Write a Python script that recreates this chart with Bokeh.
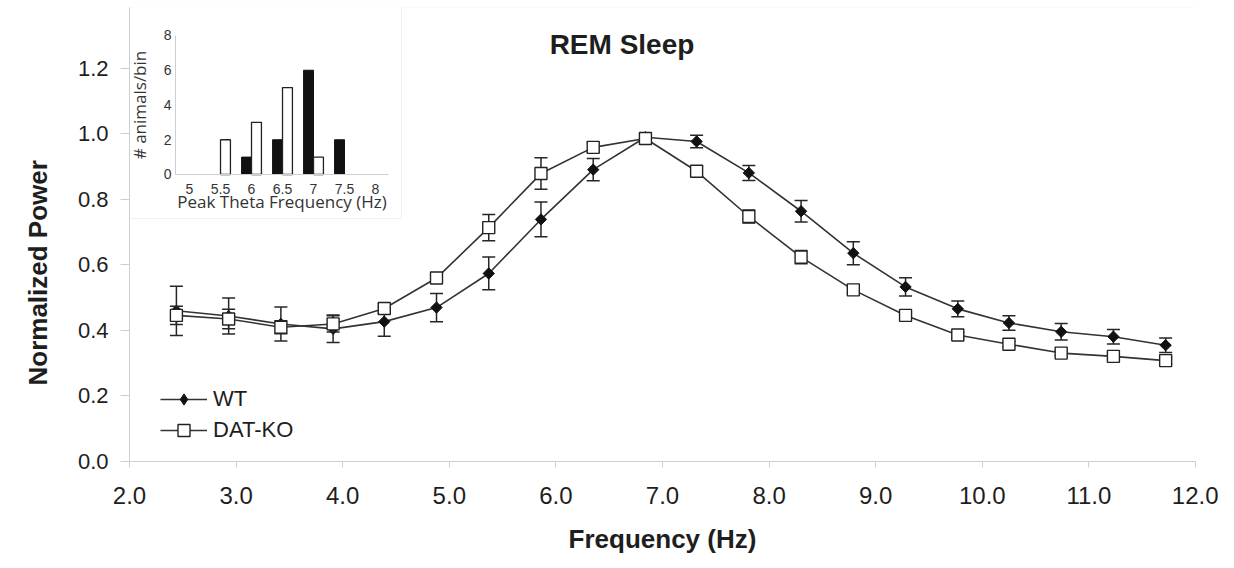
from bokeh.plotting import figure
from bokeh.models import (Range1d, LinearAxis, FixedTicker, Legend, LegendItem,
                          BoxAnnotation, Label, Title, ColumnDataSource)
from bokeh.embed import file_html
from bokeh.resources import INLINE

# ---------------- data ----------------
freq = [2.44, 2.93, 3.42, 3.91, 4.39, 4.88, 5.37, 5.86, 6.35, 6.84,
        7.32, 7.81, 8.30, 8.79, 9.28, 9.77, 10.25, 10.74, 11.23, 11.72]
wt_mean = [0.460, 0.444, 0.420, 0.405, 0.427, 0.470, 0.574, 0.739, 0.891, 0.990,
           0.977, 0.881, 0.764, 0.636, 0.533, 0.466, 0.423, 0.396, 0.381, 0.355]
wt_sem = [0.075, 0.055, 0.052, 0.042, 0.045, 0.043, 0.050, 0.053, 0.034, 0.010,
          0.019, 0.023, 0.033, 0.035, 0.028, 0.024, 0.022, 0.025, 0.022, 0.022]
ko_mean = [0.446, 0.435, 0.410, 0.420, 0.467, 0.560, 0.714, 0.879, 0.959, 0.986,
           0.886, 0.748, 0.624, 0.524, 0.446, 0.386, 0.358, 0.331, 0.321, 0.308]
ko_sem = [0.028, 0.030, 0.020, 0.025, 0.015, 0.015, 0.040, 0.048, 0.015, 0.010,
          0.015, 0.020, 0.020, 0.010, 0.008, 0.008, 0.008, 0.008, 0.008, 0.010]

x_ticks = [2, 3, 4, 5, 6, 7, 8, 9, 10, 11, 12]
x_tick_labels = ["2.0", "3.0", "4.0", "5.0", "6.0", "7.0", "8.0", "9.0", "10.0", "11.0", "12.0"]
y_ticks = [0.0, 0.2, 0.4, 0.6, 0.8, 1.0, 1.2]
y_tick_labels = ["0.0", "0.2", "0.4", "0.6", "0.8", "1.0", "1.2"]

# inset histogram: peak theta frequency
inset_bins = [5.0, 5.5, 6.0, 6.5, 7.0, 7.5, 8.0]
inset_bin_labels = ["5", "5.5", "6", "6.5", "7", "7.5", "8"]
inset_wt = [0, 0, 1, 2, 6, 2, 0]
inset_ko = [0, 2, 3, 5, 1, 0, 0]
inset_y_ticks = [0, 2, 4, 6, 8]

FONT = "Liberation Sans"
DARK = "#262626"
AXIS_GRAY = "#cfcfcf"

p = figure(width=1218, height=565, x_range=Range1d(2, 12), y_range=Range1d(0, 1.386),
           output_backend="svg", toolbar_location=None,
           min_border_left=129, min_border_right=23, min_border_top=7, min_border_bottom=104)
p.title.visible = False
p.grid.visible = False
p.outline_line_color = None
p.background_fill_color = "white"
p.border_fill_color = "white"

# inset ranges (share the same frame)
p.extra_x_ranges = {"ix": Range1d(4.032, 21.226)}
p.extra_y_ranges = {"iy": Range1d(-16.518, 9.611)}

# ---------------- main axes ----------------
xa = p.xaxis[0]
xa.ticker = FixedTicker(ticks=x_ticks)
xa.major_label_overrides = dict(zip(x_ticks, x_tick_labels))
xa.axis_label = "Frequency (Hz)"
ya = p.yaxis[0]
ya.ticker = FixedTicker(ticks=y_ticks)
ya.major_label_overrides = dict(zip(y_ticks, y_tick_labels))
for ax in (xa, ya):
    ax.axis_line_color = AXIS_GRAY
    ax.major_tick_line_color = AXIS_GRAY
    ax.minor_tick_line_color = None
    ax.major_tick_in = 0
    ax.major_label_text_font = FONT
    ax.major_label_text_color = "#1e1e1e"
    ax.axis_label_text_font = FONT
    ax.axis_label_text_font_style = "bold"
    ax.axis_label_text_font_size = "26px"
    ax.axis_label_text_color = "#1e1e1e"
xa.major_tick_out = 6
xa.major_label_standoff = 19
xa.major_label_text_font_size = "24px"
xa.axis_label_standoff = 17
ya.major_tick_out = 9
ya.major_label_standoff = 12
ya.major_label_text_font_size = "22px"

# y-axis title as a side title, offset upward from the frame bottom like the original
p.add_layout(Title(text="Normalized Power", align="left", vertical_align="top", offset=76,
                   standoff=40, text_font=FONT, text_font_style="bold", text_font_size="26px",
                   text_color="#1e1e1e"), "left")

# outer figure border (only the top edge falls inside the canvas)
p.add_layout(BoxAnnotation(left=-20, right=1300, top=7, bottom=700,
                           left_units="canvas", right_units="canvas",
                           top_units="canvas", bottom_units="canvas",
                           fill_alpha=0, line_color="#dedede", line_width=1, level="underlay"))

# ---------------- inset ----------------
p.add_layout(BoxAnnotation(left=4.016, right=8.419, top=9.8, bottom=-2.532,
                           x_range_name="ix", y_range_name="iy",
                           fill_color="white", fill_alpha=1.0,
                           line_color="#d4d4d4", line_width=1, level="underlay"))

bw = 0.16
wt_src = ColumnDataSource(dict(x=[b - bw / 2 for b, c in zip(inset_bins, inset_wt) if c > 0],
                               top=[c for c in inset_wt if c > 0]))
ko_src = ColumnDataSource(dict(x=[b + bw / 2 for b, c in zip(inset_bins, inset_ko) if c > 0],
                               top=[c for c in inset_ko if c > 0]))
p.vbar(x="x", top="top", bottom=0, width=bw, source=wt_src, x_range_name="ix", y_range_name="iy",
       fill_color="#111111", line_color="#111111", line_width=1)
p.vbar(x="x", top="top", bottom=0, width=bw, source=ko_src, x_range_name="ix", y_range_name="iy",
       fill_color="white", line_color="#222222", line_width=1.3)

ixa = LinearAxis(x_range_name="ix", y_range_name="iy", fixed_location=0, bounds=(4.774, 8.21),
                 ticker=FixedTicker(ticks=inset_bins),
                 major_label_overrides=dict(zip(inset_bins, inset_bin_labels)),
                 axis_label="Peak Theta Frequency (Hz)")
iya = LinearAxis(x_range_name="ix", y_range_name="iy", fixed_location=4.774, bounds=(0, 8),
                 ticker=FixedTicker(ticks=inset_y_ticks),
                 axis_label="# animals/bin")
for ax in (ixa, iya):
    ax.axis_line_color = AXIS_GRAY
    ax.major_tick_line_color = None
    ax.minor_tick_line_color = None
    ax.major_tick_out = 0
    ax.major_tick_in = 0
    ax.major_label_text_font = FONT
    ax.major_label_text_font_size = "14px"
    ax.major_label_text_color = "#333333"
    ax.axis_label_text_font = "Open Sans"
    ax.axis_label_text_font_style = "normal"
    ax.axis_label_text_font_size = "17px"
    ax.axis_label_text_color = "#333333"
ixa.major_label_standoff = 10
ixa.axis_label_standoff = -8
iya.major_label_standoff = 4
iya.axis_label_standoff = 10
p.add_layout(ixa, "below")
p.add_layout(iya, "left")

# ---------------- main series ----------------
wt_lo = [m - s for m, s in zip(wt_mean, wt_sem)]
wt_hi = [m + s for m, s in zip(wt_mean, wt_sem)]
ko_lo = [m - s for m, s in zip(ko_mean, ko_sem)]
ko_hi = [m + s for m, s in zip(ko_mean, ko_sem)]

p.segment(x0=freq, y0=wt_lo, x1=freq, y1=wt_hi, line_color=DARK, line_width=1.5)
p.scatter(x=freq + freq, y=wt_lo + wt_hi, marker="dash", size=13, line_color=DARK, line_width=1.5)
wt_line = p.line(x=freq, y=wt_mean, line_color="#333333", line_width=1.6)
p.scatter(x=freq, y=wt_mean, marker="square", angle=0.7853981634, size=8,
          fill_color="#111111", line_color="#111111", line_width=1)
# hidden renderer used only for the legend's upright diamond symbol
wt_leg_marker = p.scatter(x=freq[:1], y=wt_mean[:1], marker="diamond", fill_color="#111111",
                          line_color="#111111", line_width=1, visible=False)

p.segment(x0=freq, y0=ko_lo, x1=freq, y1=ko_hi, line_color=DARK, line_width=1.5)
p.scatter(x=freq + freq, y=ko_lo + ko_hi, marker="dash", size=13, line_color=DARK, line_width=1.5)
ko_line = p.line(x=freq, y=ko_mean, line_color="#333333", line_width=1.6)
ko_pts = p.scatter(x=freq, y=ko_mean, marker="square", size=12,
                   fill_color="white", line_color="#222222", line_width=1.4)

# ---------------- legends ----------------
leg_common = dict(glyph_width=47, label_standoff=6, padding=0, margin=0, spacing=0,
                  border_line_color=None, background_fill_alpha=0,
                  inactive_fill_alpha=0,
                  label_text_font=FONT, label_text_font_size="22px", label_text_color="#1e1e1e")
leg_wt = Legend(items=[LegendItem(label="WT", renderers=[wt_line, wt_leg_marker])],
                location=(31, 48), glyph_height=28, **leg_common)
leg_ko = Legend(items=[LegendItem(label="DAT-KO", renderers=[ko_line, ko_pts])],
                location=(31, 16), glyph_height=30, **leg_common)
p.add_layout(leg_wt)
p.add_layout(leg_ko)

# ---------------- title ----------------
p.add_layout(Label(x=6.62, y=1.273, text="REM Sleep", text_align="center", text_baseline="middle",
                   text_font=FONT, text_font_style="bold", text_font_size="28px",
                   text_color="#1e1e1e"))

open("out.html", "w").write(file_html(p, INLINE))
